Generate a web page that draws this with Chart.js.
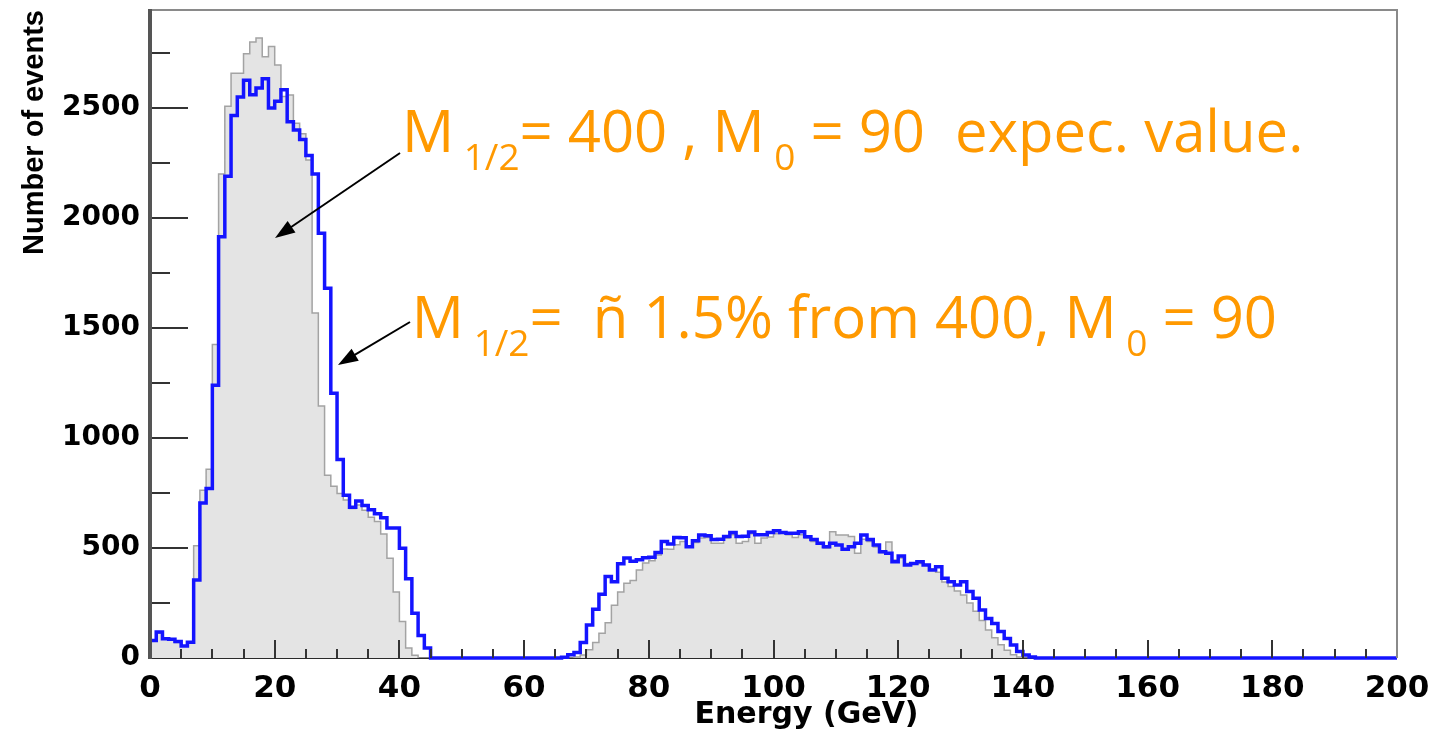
<!DOCTYPE html>
<html>
<head>
<meta charset="utf-8">
<script src="https://cdn.jsdelivr.net/npm/chart.js@4.4.0/dist/chart.umd.min.js"></script>
<style>
  html, body { margin: 0; padding: 0; background: #fff; }
  canvas { display: block; }
</style>
</head>
<body>
<canvas id="chart1" width="1433" height="734"></canvas>
<script>
// energy bins are 1 GeV wide, bin i covers [i, i+1)
const energyTicks = [0, 20, 40, 60, 80, 100, 120, 140, 160, 180, 200];
const eventTicks = [0, 500, 1000, 1500, 2000, 2500];

// M1/2 shifted by 1.5% (blue)
const shiftedCounts = [
  80, 118, 88, 85, 75, 55, 72, 355, 705, 770,
  1240, 1915, 2190, 2466, 2550, 2626, 2560, 2590, 2632, 2500,
  2530, 2582, 2437, 2400, 2356, 2284, 2200, 1930, 1680, 1203,
  902, 740, 685, 713, 693, 674, 656, 637, 591, 591,
  499, 360, 203, 102, 46, 0, 0, 0, 0, 0,
  0, 0, 0, 0, 0, 0, 0, 0, 0, 0,
  0, 0, 0, 0, 0, 0, 3, 15, 25, 70,
  150, 222, 290, 370, 346, 428, 455, 440, 446, 456,
  458, 480, 529, 518, 548, 546, 506, 533, 559, 556,
  539, 540, 552, 570, 552, 553, 573, 560, 560, 570,
  578, 570, 567, 567, 574, 551, 539, 521, 506, 521,
  514, 494, 506, 521, 559, 539, 514, 483, 476, 438,
  463, 423, 430, 438, 423, 400, 415, 362, 347, 332,
  347, 302, 271, 218, 180, 157, 120, 89, 59, 29,
  14, 4, 0, 0, 0, 0, 0, 0, 0, 0,
  0, 0, 0, 0, 0, 0, 0, 0, 0, 0,
  0, 0, 0, 0, 0, 0, 0, 0, 0, 0,
  0, 0, 0, 0, 0, 0, 0, 0, 0, 0,
  0, 0, 0, 0, 0, 0, 0, 0, 0, 0,
  0, 0, 0, 0, 0, 0, 0, 0, 0, 0
];

// expected value M1/2 = 400, M0 = 90 (grey, filled)
const expectedCounts = [
  78, 112, 88, 82, 70, 55, 70, 510, 762, 858,
  1425, 2200, 2508, 2658, 2658, 2746, 2800, 2818, 2733, 2779,
  2695, 2552, 2559, 2430, 2383, 2263, 1568, 1145, 830, 780,
  748, 718, 680, 695, 672, 640, 620, 563, 453, 300,
  166, 45, 12, 0, 0, 0, 0, 0, 0, 0,
  0, 0, 0, 0, 0, 0, 0, 0, 0, 0,
  0, 0, 0, 0, 0, 0, 0, 0, 5, 14,
  38, 70, 112, 160, 240, 300, 340, 352, 400, 432,
  442, 468, 495, 494, 515, 530, 510, 525, 545, 548,
  521, 521, 545, 560, 521, 530, 565, 521, 545, 550,
  565, 570, 560, 548, 560, 545, 530, 525, 500, 574,
  559, 559, 552, 476, 540, 530, 505, 478, 527, 445,
  455, 430, 432, 430, 425, 405, 390, 345, 325, 305,
  286, 250, 212, 170, 127, 92, 60, 35, 15, 4,
  0, 0, 0, 0, 0, 0, 0, 0, 0, 0,
  0, 0, 0, 0, 0, 0, 0, 0, 0, 0,
  0, 0, 0, 0, 0, 0, 0, 0, 0, 0,
  0, 0, 0, 0, 0, 0, 0, 0, 0, 0,
  0, 0, 0, 0, 0, 0, 0, 0, 0, 0,
  0, 0, 0, 0, 0, 0, 0, 0, 0, 0
];

// annotation anchors, in data units (GeV, events)
const label1 = [40.4, 2300];
const label2 = [42.0, 1454];
const arrow1 = [[40.1, 2295], [20.05, 1909]];
const arrow2 = [[41.7, 1527], [30.15, 1332]];

// histogram outline: left edge of each bin, plus closing point at 200
function toSteps(counts) {
  const pts = [{x: 0, y: 0}];
  counts.forEach((c, i) => pts.push({x: i, y: c}));
  pts.push({x: counts.length, y: counts[counts.length - 1]});
  return pts;
}

function drawRich(ctx, x, y, parts) {
  let cx = x;
  for (const p of parts) {
    ctx.font = p.sub ? '37px "Open Sans"' : '58px "Open Sans"';
    ctx.fillText(p.t, cx, p.sub ? y + 18 : y);
    cx += ctx.measureText(p.t).width;
  }
}

function drawArrow(ctx, x1, y1, x2, y2) {
  const ang = Math.atan2(y2 - y1, x2 - x1);
  const hl = 20, hw = 7;
  const c = Math.cos(ang), s = Math.sin(ang);
  ctx.beginPath();
  ctx.moveTo(x1, y1);
  ctx.lineTo(x2 - c * hl * 0.8, y2 - s * hl * 0.8);
  ctx.stroke();
  ctx.beginPath();
  ctx.moveTo(x2, y2);
  ctx.lineTo(x2 - c * hl - s * hw, y2 - s * hl + c * hw);
  ctx.lineTo(x2 - c * hl + s * hw, y2 - s * hl - c * hw);
  ctx.closePath();
  ctx.fill();
}

// ROOT-like frame: ticks inside the frame, thick left axis
const rootFrame = {
  id: 'rootFrame',
  beforeDatasetsDraw(chart) {
    const {ctx, chartArea: a} = chart;
    ctx.save();
    ctx.fillStyle = '#2a2a2a';
    ctx.fillRect(a.left, a.bottom - 1, a.right - a.left, 2);
    ctx.restore();
  },
  afterDatasetsDraw(chart) {
    const {ctx, chartArea: a, scales} = chart;
    const xs = scales.x, ys = scales.y;
    ctx.save();
    ctx.fillStyle = '#8a8a8a';
    ctx.fillRect(a.left, a.top - 1, a.right - a.left, 2);
    ctx.fillRect(a.right - 1, a.top - 1, 2, a.bottom - a.top + 1);

    ctx.fillStyle = '#333333';
    // ticks every 250 events, longer at the labelled ones
    for (let k = 1; k * 250 < ys.max; k++) {
      const py = Math.round(ys.getPixelForValue(k * 250));
      const len = eventTicks.includes(k * 250) ? 38 : 20;
      ctx.fillRect(a.left, py - 1, len, 2);
    }
    // ticks every 5 GeV, longer at the labelled ones
    for (let k = 1; k * 5 < 200; k++) {
      const px = Math.round(xs.getPixelForValue(k * 5));
      const len = energyTicks.includes(k * 5) ? 18 : 9;
      ctx.fillRect(px - 1, a.bottom - len, 2, len);
    }

    ctx.fillStyle = '#555555';
    ctx.fillRect(a.left - 2, a.top - 1, 4, a.bottom - a.top + 2);
    ctx.restore();
  },
  afterDraw(chart) {
    const {ctx, chartArea: a, scales} = chart;
    const xs = scales.x, ys = scales.y;
    ctx.save();
    ctx.fillStyle = '#000';
    ctx.font = 'bold 30px "DejaVu Sans"';
    ctx.textAlign = 'center';
    ctx.textBaseline = 'middle';
    ctx.fillText('Energy (GeV)', xs.getPixelForValue(105.3), a.bottom + 57);

    ctx.strokeStyle = '#000';
    ctx.fillStyle = '#000';
    ctx.lineWidth = 2;
    for (const [t, h] of [arrow1, arrow2]) {
      drawArrow(ctx, xs.getPixelForValue(t[0]), ys.getPixelForValue(t[1]),
                     xs.getPixelForValue(h[0]), ys.getPixelForValue(h[1]));
    }

    ctx.fillStyle = '#ff9900';
    ctx.textAlign = 'left';
    ctx.textBaseline = 'alphabetic';
    drawRich(ctx, xs.getPixelForValue(label1[0]), ys.getPixelForValue(label1[1]), [
      {t: 'M'}, {t: ' 1/2', sub: true}, {t: '= 400 , M'}, {t: ' 0', sub: true}, {t: ' = 90  expec. value.'}
    ]);
    drawRich(ctx, xs.getPixelForValue(label2[0]), ys.getPixelForValue(label2[1]), [
      {t: 'M'}, {t: ' 1/2', sub: true}, {t: '=  ñ 1.5% from 400, M'}, {t: ' 0', sub: true}, {t: ' = 90'}
    ]);
    ctx.restore();
  }
};

new Chart(document.getElementById('chart1'), {
  type: 'line',
  data: {
    datasets: [
      {
        label: 'M1/2 = ñ 1.5% from 400, M0 = 90',
        data: toSteps(shiftedCounts),
        borderColor: '#1414ff',
        borderWidth: 3.5,
        stepped: true,
        fill: false,
        pointRadius: 0,
        clip: false
      },
      {
        label: 'M1/2 = 400, M0 = 90 expec. value',
        data: toSteps(expectedCounts),
        borderColor: '#a3a3a3',
        borderWidth: 1.5,
        backgroundColor: '#e4e4e4',
        fill: 'origin',
        stepped: true,
        pointRadius: 0
      }
    ]
  },
  options: {
    responsive: false,
    animation: false,
    devicePixelRatio: 1,
    layout: { padding: { left: 0, right: 36, top: 10, bottom: 0 } },
    plugins: { legend: { display: false }, tooltip: { enabled: false } },
    scales: {
      x: {
        type: 'linear',
        min: 0,
        max: 200,
        grid: { display: false, drawTicks: false },
        border: { display: false },
        afterBuildTicks: s => { s.ticks = energyTicks.map(v => ({value: v})); },
        ticks: {
          color: '#000',
          font: { family: 'DejaVu Sans', weight: 'bold', size: 31 },
          padding: 12,
          maxRotation: 0,
          autoSkip: false,
          callback: v => String(v)
        },
        afterFit: s => { s.height = 76; s.paddingLeft = 0; s.paddingRight = 0; }
      },
      y: {
        min: 0,
        max: 2945,
        grid: { display: false, drawTicks: false },
        border: { display: false },
        afterBuildTicks: s => { s.ticks = eventTicks.map(v => ({value: v})); },
        ticks: {
          color: '#000',
          font: { family: 'DejaVu Sans', weight: 'bold', size: 28 },
          padding: 10,
          callback: v => String(v)
        },
        title: {
          display: true,
          text: 'Number of events',
          align: 'end',
          color: '#000',
          font: { family: 'Liberation Sans', weight: 'bold', size: 29 },
          padding: { top: 18, bottom: 0 }
        },
        afterFit: s => { s.width = 150; s.paddingTop = 0; s.paddingBottom = 0; }
      }
    }
  },
  plugins: [rootFrame]
});
</script>
</body>
</html>
